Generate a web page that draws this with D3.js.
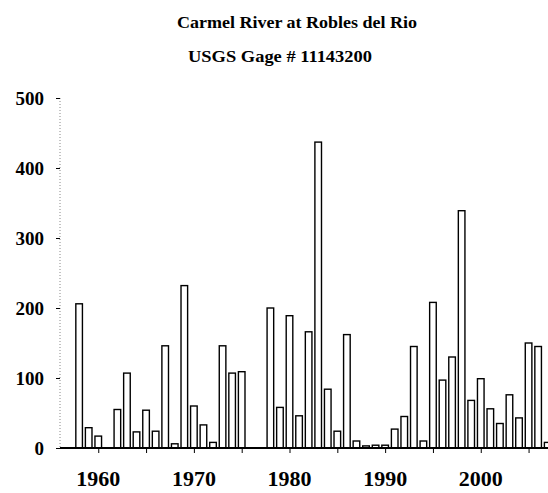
<!DOCTYPE html>
<html><head><meta charset="utf-8">
<script src="https://cdn.jsdelivr.net/npm/d3@7"></script>
<style>body{margin:0;background:#fff}svg{display:block}</style>
</head><body>
<script>
const years = [1958,1959,1960,1961,1962,1963,1964,1965,1966,1967,1968,1969,1970,1971,1972,1973,1974,1975,1976,1977,1978,1979,1980,1981,1982,1983,1984,1985,1986,1987,1988,1989,1990,1991,1992,1993,1994,1995,1996,1997,1998,1999,2000,2001,2002,2003,2004,2005,2006,2007];
const flows = [206,29,17,0,55,107,23,54,24,146,6,232,60,33,8,146,107,109,0,0,200,58,189,46,166,437,84,24,162,10,3,4,4,27,45,145,10,208,97,130,339,68,99,56,35,76,43,150,145,8];
const yTicks = [0,100,200,300,400,500];
const xLabelYears = [1960,1970,1980,1990,2000];
const xTickYears = [1960,1965,1970,1975,1980,1985,1990,1995,2000,2005];
const titleLines = ["Carmel River at Robles del Rio","USGS Gage # 11143200"];

const W=548,H=493;
const svg=d3.select("body").append("svg").attr("width",W).attr("height",H);
const x=d3.scaleLinear().domain([1956,2007]).range([60,547.7]);
const y=d3.scaleLinear().domain([0,500]).range([448,98]);
const font="'Liberation Serif','Times New Roman',serif";

// titles
svg.append("text").attr("x",297).attr("y",28).attr("text-anchor","middle")
  .attr("font-family",font).attr("font-weight","bold").attr("font-size",17)
  .attr("textLength",240).attr("lengthAdjust","spacingAndGlyphs").text(titleLines[0]);
svg.append("text").attr("x",280).attr("y",62).attr("text-anchor","middle")
  .attr("font-family",font).attr("font-weight","bold").attr("font-size",17)
  .attr("textLength",184).attr("lengthAdjust","spacingAndGlyphs").text(titleLines[1]);

// y axis line (faint, dotted as scanned)
svg.append("line").attr("x1",60).attr("x2",60).attr("y1",y(500)).attr("y2",y(0))
  .attr("stroke","#888").attr("stroke-width",1).attr("stroke-dasharray","1,2");
const yAxis=d3.axisLeft(y).tickValues(yTicks).tickSize(4).tickPadding(12).tickFormat(d3.format("d"));
const gy=svg.append("g").attr("transform","translate(60,0)").call(yAxis);
gy.select(".domain").remove();
gy.selectAll(".tick line").attr("stroke","#000").attr("stroke-width",1);
gy.selectAll("text").attr("font-family",font).attr("font-weight","bold").attr("font-size",19).attr("fill","#000");

// bars
const bw=6.6;
svg.append("g").selectAll("rect").data(years.map((yr,i)=>({yr,v:flows[i]})).filter(d=>d.v>0))
  .enter().append("rect")
  .attr("x",d=>x(d.yr)-bw/2).attr("width",bw)
  .attr("y",d=>y(d.v)).attr("height",d=>y(0)-y(d.v))
  .attr("fill","#fff").attr("stroke","#000").attr("stroke-width",1.4);

// x axis
svg.append("line").attr("x1",60).attr("x2",548).attr("y1",y(0)).attr("y2",y(0))
  .attr("stroke","#000").attr("stroke-width",2.2);
const gx=svg.append("g").attr("transform",`translate(0,${y(0)})`)
  .call(d3.axisBottom(x).tickValues(xTickYears).tickSize(5).tickFormat(""));
gx.select(".domain").remove();
gx.selectAll(".tick line").attr("stroke","#000").attr("stroke-width",1);
svg.append("g").selectAll("text").data(xLabelYears).enter().append("text")
  .attr("x",d=>x(d)).attr("y",486).attr("text-anchor","middle")
  .attr("font-family",font).attr("font-weight","bold").attr("font-size",22)
  .text(d=>d);
</script>
</body></html>
